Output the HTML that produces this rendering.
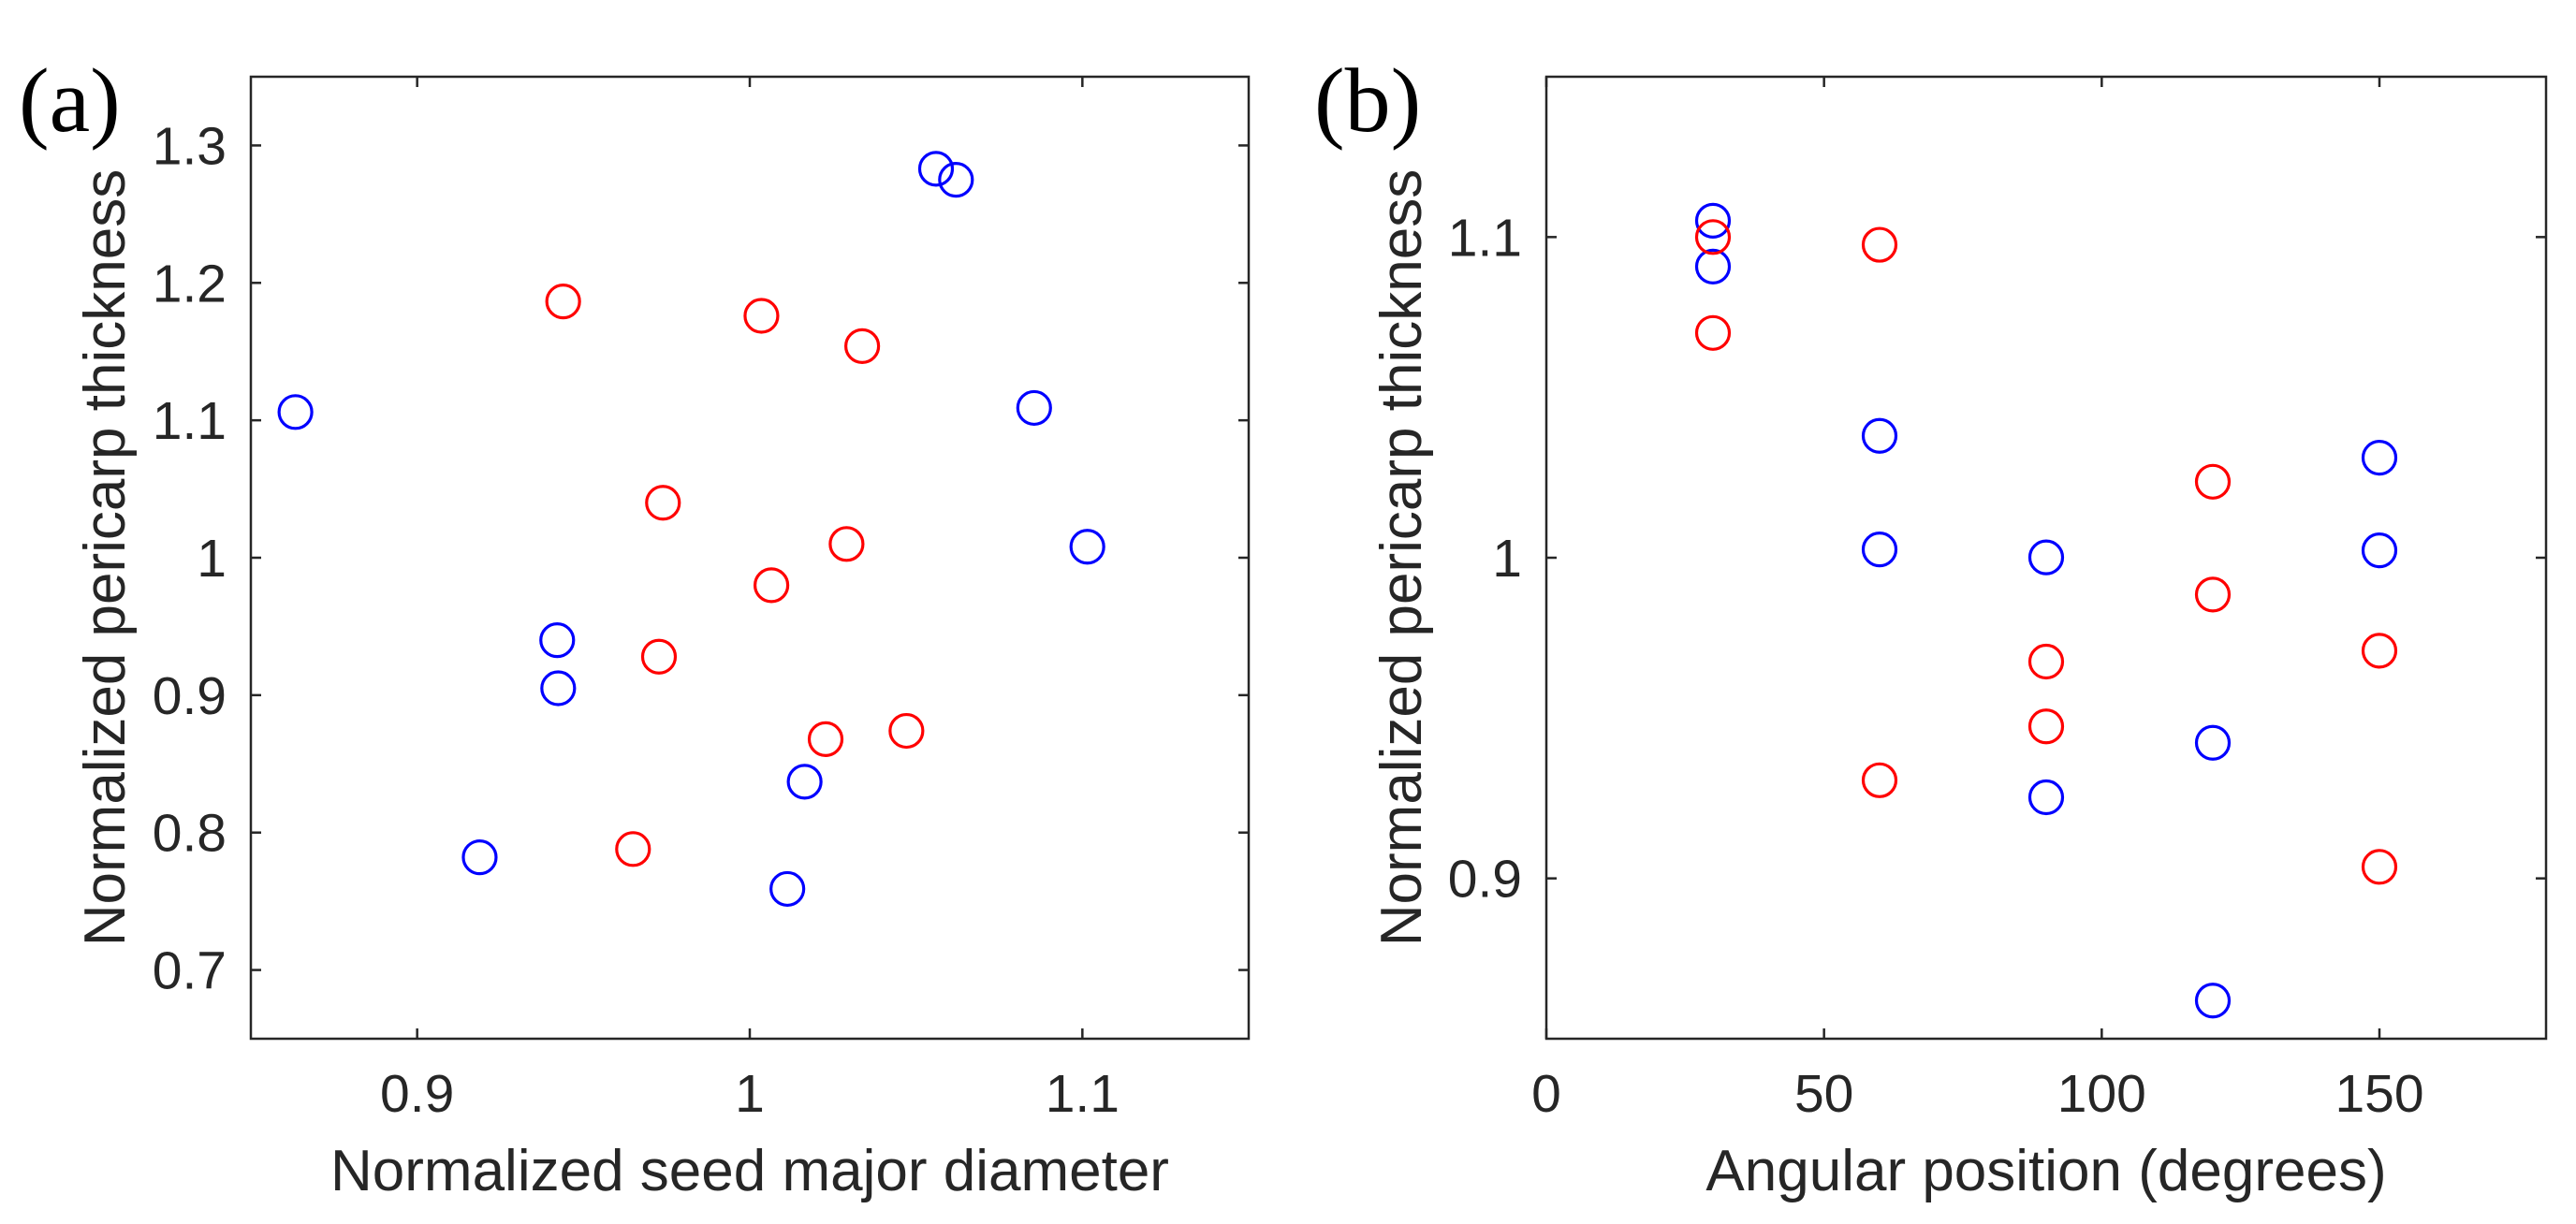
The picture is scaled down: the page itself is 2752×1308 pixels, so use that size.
<!DOCTYPE html>
<html><head><meta charset="utf-8"><style>
html,body{margin:0;padding:0;background:#fff}
svg{display:block}
text{font-family:"Liberation Sans",sans-serif;fill:#262626}
</style></head><body>
<svg id="fig" width="2752" height="1308" viewBox="0 0 2752 1308" xmlns="http://www.w3.org/2000/svg">
<rect width="2752" height="1308" fill="#fff"/>
</svg>
<script>
const aBlueX=[1.056,1.062,0.8634,1.0855,1.1015,0.9421,0.9424,0.9188,1.0165,1.0113];
const aBlueY=[1.283,1.275,1.106,1.109,1.008,0.940,0.905,0.782,0.837,0.759];
const aRedX=[0.9439,1.0035,1.0338,0.9739,1.0291,1.0065,0.9727,1.0228,1.0471,0.9649];
const aRedY=[1.1865,1.176,1.154,1.040,1.010,0.980,0.928,0.868,0.874,0.788];
const aXTicks=[0.9,1.0,1.1];
const aXTickLabels=["0.9","1","1.1"];
const aYTicks=[0.7,0.8,0.9,1.0,1.1,1.2,1.3];
const aYTickLabels=["0.7","0.8","0.9","1","1.1","1.2","1.3"];
const bBlueX=[30,30,60,60,90,90,120,120,150,150];
const bBlueY=[1.1051,1.0908,1.038,1.0026,1.0001,0.9253,0.9423,0.8619,1.0312,1.0023];
const bRedX=[30,30,60,60,90,90,120,120,150,150];
const bRedY=[1.1,1.0701,1.0976,0.9306,0.9676,0.9474,1.0237,0.9885,0.971,0.9036];
const bXTicks=[0,50,100,150];
const bXTickLabels=["0","50","100","150"];
const bYTicks=[0.9,1.0,1.1];
const bYTickLabels=["0.9","1","1.1"];

const NS="http://www.w3.org/2000/svg";
const svg=document.getElementById('fig');
function mk(tag,attrs,parent){const e=document.createElementNS(NS,tag);for(const k in attrs)e.setAttribute(k,attrs[k]);(parent||svg).appendChild(e);return e;}

function panel(p){
  const g=mk('g',{});
  
  
  const sx=v=>p.L+(v-p.x0)/(p.x1-p.x0)*(p.R-p.L);
  const sy=v=>p.B-(v-p.y0)/(p.y1-p.y0)*(p.B-p.T);
  const box=mk('rect',{x:p.L,y:p.T,width:p.R-p.L,height:p.B-p.T,fill:'none',stroke:'#262626','stroke-width':2.5},g);
  
  
  p.xt.forEach((v,i)=>{
    const x=sx(v);
    mk('line',{x1:x,y1:p.B,x2:x,y2:p.B-11,stroke:'#262626','stroke-width':2.5},g);
    mk('line',{x1:x,y1:p.T,x2:x,y2:p.T+11,stroke:'#262626','stroke-width':2.5},g);
    const t=mk('text',{x:x,y:1188,'font-size':57,'text-anchor':'middle'},g);
    t.textContent=p.xl[i];
    
    
  });
  p.yt.forEach((v,i)=>{
    const y=sy(v);
    mk('line',{x1:p.L,y1:y,x2:p.L+11,y2:y,stroke:'#262626','stroke-width':2.5},g);
    mk('line',{x1:p.R,y1:y,x2:p.R-11,y2:y,stroke:'#262626','stroke-width':2.5},g);
    const t=mk('text',{x:p.L-26,y:y+20,'font-size':57,'text-anchor':'end'},g);
    t.textContent=p.yl[i];
    
    
  });
  const xl=mk('text',{x:(p.L+p.R)/2,y:1272,'font-size':62,'text-anchor':'middle'},g);
  xl.textContent=p.xlabel;
  
  
  const yl=mk('text',{x:0,y:0,'font-size':62,'text-anchor':'middle',transform:`translate(${p.yLabX},${(p.T+p.B)/2}) rotate(-90)`},g);
  yl.textContent='Normalized pericarp thickness';
  
  
  const pl=mk('text',{x:p.tagX,y:140,'font-size':98,style:'font-family:"Liberation Serif",serif;fill:#000'},g);
  pl.textContent=p.tag;
  
  
  p.series.forEach(s=>{
    s.x.forEach((v,i)=>{
      const c=mk('circle',{cx:sx(v),cy:sy(s.y[i]),r:17.5,fill:'none',stroke:s.color,'stroke-width':3.2},g);
      
      
    });
  });
}
panel({name:'panel-a',L:268,R:1334,T:82,B:1110,x0:0.85,x1:1.15,y0:0.65,y1:1.35,xt:aXTicks,xl:aXTickLabels,yt:aYTicks,yl:aYTickLabels,
  xlabel:'Normalized seed major diameter',yLabX:133,tag:'(a)',tagX:20,
  series:[{name:'blue-point',color:'#0000ff',x:aBlueX,y:aBlueY},{name:'red-point',color:'#ff0000',x:aRedX,y:aRedY}]});
panel({name:'panel-b',L:1652,R:2720,T:82,B:1110,x0:0,x1:180,y0:0.85,y1:1.15,xt:bXTicks,xl:bXTickLabels,yt:bYTicks,yl:bYTickLabels,
  xlabel:'Angular position (degrees)',yLabX:1518,tag:'(b)',tagX:1404,
  series:[{name:'blue-point',color:'#0000ff',x:bBlueX,y:bBlueY},{name:'red-point',color:'#ff0000',x:bRedX,y:bRedY}]});
</script>
</body></html>
